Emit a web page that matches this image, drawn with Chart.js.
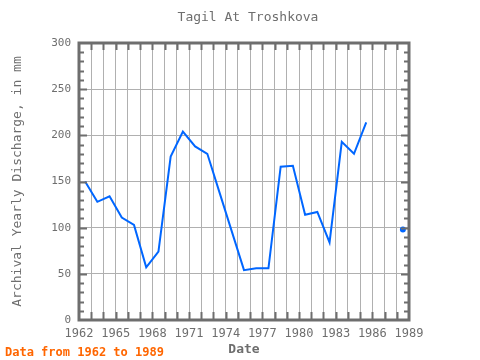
<!DOCTYPE html>
<html>
<head>
<meta charset="utf-8">
<script src="https://cdn.jsdelivr.net/npm/chart.js@4/dist/chart.umd.min.js"></script>
<style>
  html, body { margin: 0; padding: 0; background: #fff; }
  #wrap { width: 480px; height: 360px; }
</style>
</head>
<body>
<div id="wrap"><canvas id="chart" width="480" height="360"></canvas></div>
<script>
// yearly values (1986, 1987 missing)
const years = [1962, 1963, 1964, 1965, 1966, 1967, 1968, 1969, 1970, 1971, 1972, 1973, 1974, 1975,
               1976, 1977, 1978, 1979, 1980, 1981, 1982, 1983, 1984, 1985, 1986, 1987, 1988];
const discharge = [150, 128, 134, 111, 103, 57, 74, 177, 204, 188, 180, 138, 96, 54,
                   56, 56, 166, 167, 114, 117, 84, 193, 180, 214, null, null, 98];
const xTickLabels = [1962, 1965, 1968, 1971, 1974, 1977, 1980, 1983, 1986, 1989];
const yTickLabels = [0, 50, 100, 150, 200, 250, 300];

const titleText = 'Tagil At Troshkova';
const footerText = 'Data from 1962 to 1989';
const monoFont = "'DejaVu Sans Mono', 'Liberation Mono', monospace";
const axisGray = '#6e6e6e';
const gridGray = '#b0b0b0';

// points plotted at mid year
const points = years.map((y, i) => ({ x: y + 0.5, y: discharge[i] }));

// lone points (no neighbour) get a dot, like the 1988 value
function isLonely(i) {
    if (discharge[i] == null) return false;
    const prev = i > 0 ? discharge[i - 1] : null;
    const next = i < discharge.length - 1 ? discharge[i + 1] : null;
    return prev == null && next == null;
}

const framePlugin = {
    id: 'frame',
    afterDraw(chart) {
        const ctx = chart.ctx;
        const a = chart.chartArea;
        const xs = chart.scales.x;
        const ys = chart.scales.y;
        ctx.save();
        ctx.strokeStyle = axisGray;
        ctx.lineWidth = 2;
        // year ticks on top and bottom, inside the box
        for (let yr = 1963; yr < 1989; yr++) {
            const px = Math.round(xs.getPixelForValue(yr)) + 0.5;
            ctx.beginPath();
            ctx.moveTo(px, a.top); ctx.lineTo(px, a.top + 7);
            ctx.moveTo(px, a.bottom); ctx.lineTo(px, a.bottom - 8);
            ctx.stroke();
        }
        // minor ticks every 10 on left and right
        for (let v = 10; v < 300; v += 10) {
            const py = Math.round(ys.getPixelForValue(v)) + 0.5;
            const len = v % 50 === 0 ? 8 : 5;
            ctx.beginPath();
            ctx.moveTo(a.left, py); ctx.lineTo(a.left + len, py);
            ctx.moveTo(a.right, py); ctx.lineTo(a.right - len, py);
            ctx.stroke();
        }
        // box
        ctx.lineWidth = 3;
        ctx.strokeRect(a.left, a.top, a.right - a.left, a.bottom - a.top);

        // title and footer
        ctx.font = '13px ' + monoFont;
        ctx.fillStyle = axisGray;
        ctx.textAlign = 'center';
        ctx.textBaseline = 'middle';
        ctx.fillText(titleText, 248, 18);
        ctx.font = 'bold 12px ' + monoFont;
        ctx.fillStyle = '#ff6600';
        ctx.textAlign = 'left';
        ctx.fillText(footerText, 5, 353);
        ctx.restore();
    }
};

new Chart(document.getElementById('chart'), {
    type: 'line',
    data: {
        datasets: [{
            data: points,
            borderColor: '#0066ff',
            backgroundColor: '#0066ff',
            borderWidth: 2,
            pointRadius: c => isLonely(c.dataIndex) ? 2 : 0,
            pointHoverRadius: 0,
            spanGaps: false,
            tension: 0
        }]
    },
    options: {
        responsive: false,
        animation: false,
        events: [],
        layout: { padding: { top: 43, right: 71, left: 0, bottom: 0 } },
        plugins: {
            legend: { display: false },
            tooltip: { enabled: false },
            title: { display: false }
        },
        scales: {
            x: {
                type: 'linear',
                min: 1962,
                max: 1989,
                afterFit: s => { s.height = 40; },
                afterBuildTicks: s => {
                    s.ticks = [];
                    for (let yr = 1962; yr <= 1989; yr++) s.ticks.push({ value: yr });
                },
                border: { display: false },
                grid: {
                    drawTicks: false,
                    color: c => (c.tick.value === 1962 || c.tick.value === 1989) ? 'transparent' : gridGray,
                    lineWidth: 1
                },
                ticks: {
                    autoSkip: false,
                    maxRotation: 0,
                    padding: 7,
                    color: axisGray,
                    font: { family: monoFont, size: 12 },
                    callback: v => xTickLabels.includes(v) ? String(v) : ''
                },
                title: {
                    display: true,
                    text: 'Date',
                    color: axisGray,
                    font: { family: monoFont, size: 13, weight: 'bold' },
                    padding: { top: 0, bottom: 3 }
                }
            },
            y: {
                min: 0,
                max: 300,
                afterFit: s => { s.width = 79; },
                afterBuildTicks: s => {
                    s.ticks = [];
                    for (let v = 0; v <= 300; v += 10) s.ticks.push({ value: v });
                },
                border: { display: false },
                grid: {
                    drawTicks: false,
                    color: c => (c.tick.value % 50 === 0 && c.tick.value > 0 && c.tick.value < 300) ? gridGray : 'transparent',
                    lineWidth: 1
                },
                ticks: {
                    autoSkip: false,
                    padding: 8,
                    color: axisGray,
                    font: { family: monoFont, size: 11 },
                    callback: v => yTickLabels.includes(v) ? String(v) : ''
                },
                title: {
                    display: true,
                    text: 'Archival Yearly Discharge, in mm',
                    color: axisGray,
                    font: { family: monoFont, size: 13 },
                    padding: { top: 10, bottom: 0 }
                }
            }
        }
    },
    plugins: [framePlugin]
});
</script>
</body>
</html>
